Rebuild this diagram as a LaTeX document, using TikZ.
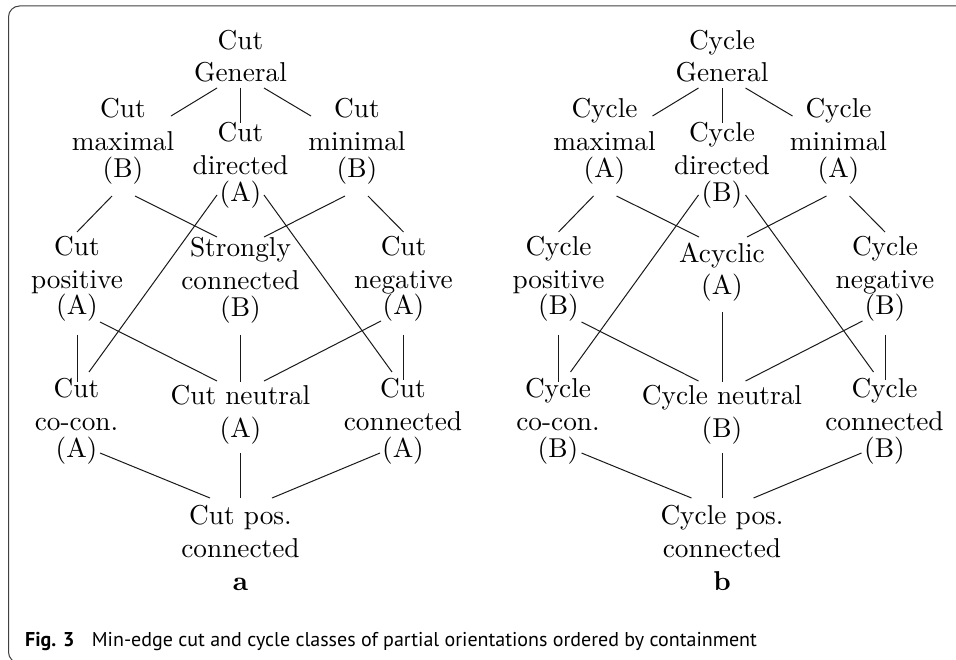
\documentclass[tikz,border=0pt]{standalone}
\usepackage{fontspec}
\newfontfamily\capfont{PT Sans}
\newcommand\ed[4]{\draw[edge] ([shift={(#2)}]#1.base) -- ([shift={(#4)}]#3.base);}
\begin{document}
\begin{tikzpicture}[x=1pt,y=-1pt,
  lbl/.style={scale=2.73,align=center,anchor=base,inner sep=0pt,font=\fontsize{10}{12}\selectfont},
  edge/.style={line width=1pt,black!90},
  capstyle/.style={anchor=base west,inner sep=0pt}]
\useasboundingbox (0,0) rectangle (956,660);
\begin{scope}
\clip (0,0) rectangle (956,660);
\draw[line width=1pt,black!75,rounded corners=11pt] (975,6) -- (8.5,6) -- (8.5,663) -- (975,663);
\end{scope}
% ---------- (a) ----------
\node[lbl] (gA)   at (240.5,82)    {Cut\\General};
\node[lbl] (maxA) at (123,177.5)   {Cut\\maximal\\[-2.2pt](B)};
\node[lbl] (dirA) at (240.5,201.5) {Cut\\directed\\[-2.2pt](A)};
\node[lbl] (minA) at (357,177.5)   {Cut\\minimal\\[-2.2pt](B)};
\node[lbl] (posA) at (77,315)      {Cut\\positive\\[-2.2pt](A)};
\node[lbl] (strA) at (240.5,316.5) {Strongly\\connected\\[-2.2pt](B)};
\node[lbl] (negA) at (403.5,315)   {Cut\\negative\\[-2.2pt](A)};
\node[lbl] (cocA) at (76.5,457.5)  {Cut\\co-con.\\[-2.2pt](A)};
\node[lbl] (neuA) at (240.5,437.5) {Cut neutral\\(A)};
\node[lbl] (conA) at (403,457.5)   {Cut\\connected\\[-2.2pt](A)};
\node[lbl] (pcA)  at (240.5,557.5) {Cut pos.\\connected};
\node[lbl,font=\fontsize{10}{12}\selectfont\bfseries] (labA) at (240.5,590) {a};
% ---------- (b) ----------
\node[lbl] (gB)   at (722,82)      {Cycle\\General};
\node[lbl] (maxB) at (604.5,177.5) {Cycle\\maximal\\[-2.2pt](A)};
\node[lbl] (dirB) at (722,201.5)   {Cycle\\directed\\[-2.2pt](B)};
\node[lbl] (minB) at (838.5,177.5) {Cycle\\minimal\\[-2.2pt](A)};
\node[lbl] (posB) at (558.5,315)   {Cycle\\positive\\[-2.2pt](B)};
\node[lbl] (acB)  at (722,295)     {Acyclic\\(A)};
\node[lbl] (negB) at (885,315)     {Cycle\\negative\\[-2.2pt](B)};
\node[lbl] (cocB) at (558,457.5)   {Cycle\\co-con.\\[-2.2pt](B)};
\node[lbl] (neuB) at (722,437.5)   {Cycle neutral\\(B)};
\node[lbl] (conB) at (884.5,457.5) {Cycle\\connected\\[-2.2pt](B)};
\node[lbl] (pcB)  at (722,557.5)   {Cycle pos.\\connected};
\node[lbl,font=\fontsize{10}{12}\selectfont\bfseries] (labB) at (722,590) {b};
% ---------- edges (a) ----------
\ed{gA}{-23.5,6}{maxA}{48,-61.5}
\ed{gA}{0,6}{dirA}{0,-78.5}
\ed{gA}{23.5,6}{minA}{-46,-61.5}
\ed{maxA}{-11,18.5}{posA}{0,-83}
\ed{maxA}{12,18.5}{strA}{-23.5,-79.5}
\ed{minA}{-12,18.5}{strA}{23.5,-79.5}
\ed{minA}{11,18.5}{negA}{0,-83}
\ed{dirA}{-23.5,-6.5}{cocA}{12.5,-85.5}
\ed{dirA}{23.5,-6.5}{conA}{-11,-85.5}
\ed{posA}{0,20}{cocA}{0.5,-75.5}
\ed{posA}{23,7}{neuA}{-23.5,-56.5}
\ed{strA}{0,18.5}{neuA}{0,-55.5}
\ed{negA}{-22.5,6}{neuA}{23.5,-56.5}
\ed{negA}{0,20}{conA}{0.5,-77.5}
\ed{cocA}{23.5,-4.5}{pcA}{-30.5,-59.5}
\ed{neuA}{0,15.5}{pcA}{0,-59.5}
\ed{conA}{-23,-4.5}{pcA}{31.5,-59.5}
% ---------- edges (b) ----------
\ed{gB}{-23.5,6}{maxB}{48,-61.5}
\ed{gB}{0,6}{dirB}{0,-78.5}
\ed{gB}{23.5,6}{minB}{-46,-61.5}
\ed{maxB}{-11,18.5}{posB}{0,-83}
\ed{maxB}{12,18.5}{acB}{-23,-58}
\ed{minB}{-12,18.5}{acB}{25,-58}
\ed{minB}{11,18.5}{negB}{0,-83}
\ed{dirB}{-23.5,-6.5}{cocB}{12.5,-85.5}
\ed{dirB}{23.5,-6.5}{conB}{-11,-85.5}
\ed{posB}{0,20}{cocB}{0.5,-75.5}
\ed{posB}{23,7}{neuB}{-23.5,-56.5}
\ed{acB}{0,17}{neuB}{0,-55.5}
\ed{negB}{-22.5,6}{neuB}{23.5,-56.5}
\ed{negB}{0,20}{conB}{0.5,-77.5}
\ed{cocB}{23.5,-4.5}{pcB}{-30.5,-59.5}
\ed{neuB}{0,15.5}{pcB}{0,-59.5}
\ed{conB}{-23,-4.5}{pcB}{31.5,-59.5}
% ---------- caption ----------
\node[capstyle,font=\capfont\bfseries\fontsize{20}{24}\selectfont] (figlbl) at (25,646.7) {Fig. 3};
\node[capstyle,font=\capfont\fontsize{20}{24}\selectfont] (captxt) at (91.7,646.7) {Min-edge cut and cycle classes of partial orientations ordered by containment};
\end{tikzpicture}
\end{document}
